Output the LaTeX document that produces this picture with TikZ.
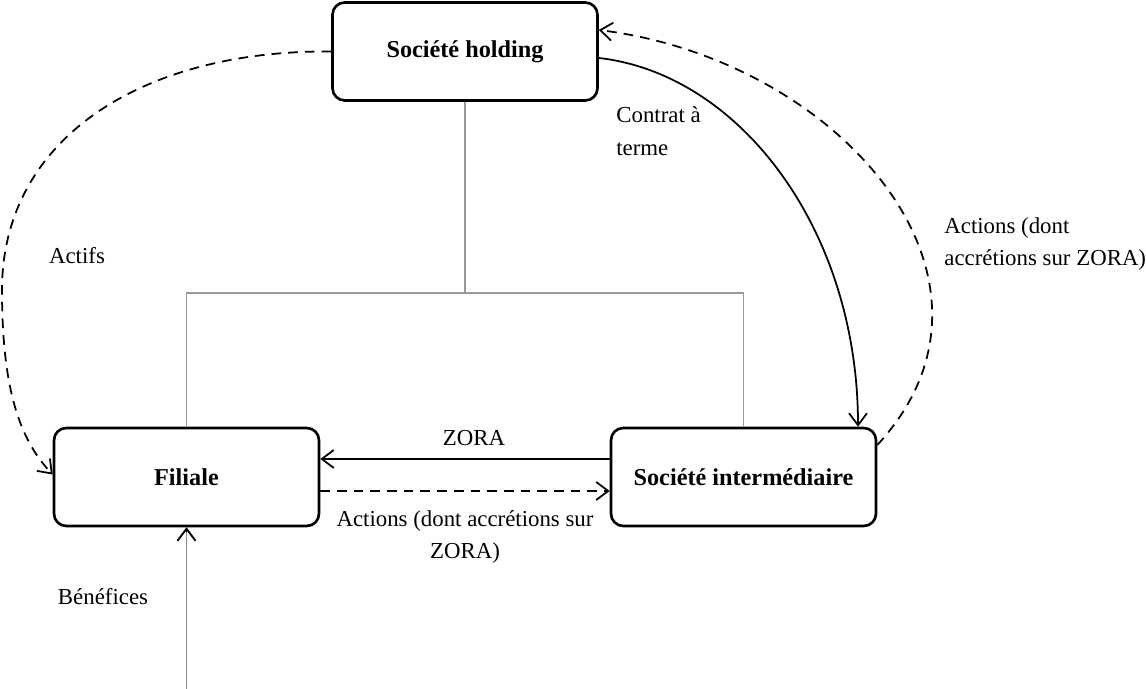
\documentclass[tikz,border=0pt]{standalone}
\usepackage{fontspec}
\setmainfont{Liberation Serif}
\usetikzlibrary{arrows.meta}
\begin{document}
\begin{tikzpicture}[
box/.style={draw=black,line width=1.5pt,rounded corners=7pt,minimum width=5.3cm,minimum height=1.96cm,font=\fontsize{13.8}{16}\selectfont\bfseries,fill=white},
lbl/.style={font=\fontsize{13}{18.5}\selectfont,text=black,inner sep=0pt},
flow/.style={line width=1pt,-{Straight Barb[length=2.4mm,width=3.6mm]}},
flowd/.style={flow,dash pattern=on 5.5pt off 4pt},
tree/.style={draw=black!40,line width=1.1pt}
]
\useasboundingbox (0,0) rectangle (22.92,13.78);
\node[box] (hold) at (9.3,12.75) {Société holding};
\node[box] (fil) at (3.73,4.24) {Filiale};
\node[box] (inter) at (14.87,4.24) {Société intermédiaire};
\coordinate (split) at (9.3,7.92);
\coordinate (benef) at (3.73,0);
\coordinate (bend) at (0.04,7.98);
\draw[tree] (hold.south) -- (split);
\draw[tree] (fil.north) |- (split) -| (inter.north);
\draw[flow,black!45] (benef) -- (fil.south);
\draw[line width=1pt,-{Straight Barb[length=2.4mm,width=3.6mm]}] ([yshift=-1mm]benef|-fil.south) -- (fil.south);
\draw[flow] ([yshift=3.6mm]inter.west) -- ([yshift=3.6mm]fil.west-|fil.east);
\draw[flowd] ([yshift=-2.8mm]fil.east) -- ([yshift=-2.8mm]inter.west);
\draw[flowd] (hold.west) .. controls (2.8,12.78) and (0.04,10.98) .. (bend) .. controls (0.04,5.98) and (0.4,4.98) .. ([yshift=0.5mm]fil.west);
\draw[flow] ([yshift=-1.3mm]hold.east) .. controls (14.8,12.3) and (17.16,9.18) .. ([xshift=2.29cm]inter.north);
\draw[flowd] ([yshift=6.4mm]inter.east) .. controls (20.6,8.18) and (16.8,12.58) .. ([yshift=4.3mm]hold.east);
\node[lbl] (zora) at (9.48,5.02) {ZORA};
\node[lbl,align=center] (actbas) at (9.3,3.04) {Actions (dont accrétions sur\\ZORA)};
\node[lbl] (benlbl) at (2.06,1.84) {Bénéfices};
\node[lbl] (actifs) at (1.54,8.66) {Actifs};
\node[lbl,align=left,anchor=west] (contrat) at (12.32,11.16) {Contrat à\\terme};
\node[lbl,align=left,anchor=west] (acthaut) at (18.88,8.9) {Actions (dont\\accrétions sur ZORA)};
\end{tikzpicture}
\end{document}
